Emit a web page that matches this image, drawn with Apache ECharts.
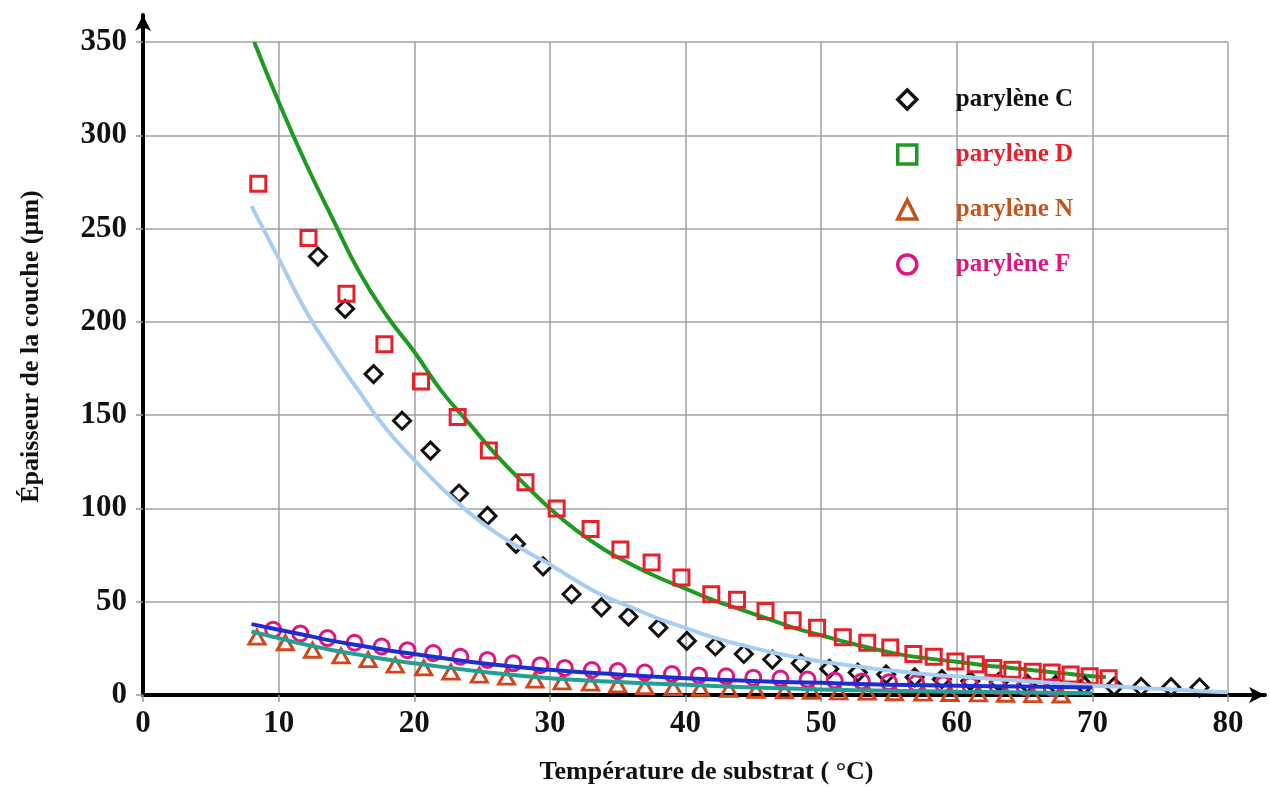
<!DOCTYPE html>
<html>
<head>
<meta charset="utf-8">
<script src="https://cdn.jsdelivr.net/npm/echarts@6/dist/echarts.min.js"></script>
<style>
    html, body { margin: 0; padding: 0; background: #fff; }
    #chart { width: 1270px; height: 787px; }
</style>
</head>
<body>
<div id="chart"></div>
<script>
// points mesurés
var cTemp = [12.9, 14.9, 17.0, 19.1, 21.2, 23.3, 25.4, 27.5, 29.5, 31.6, 33.8, 35.8, 38.0, 40.1, 42.2, 44.3, 46.4, 48.5, 50.6, 52.7, 54.8, 56.9, 58.9, 61.0, 63.1, 65.2, 67.3, 69.4, 71.6, 73.6, 75.8, 77.9];
var cThick = [235, 207, 172, 147, 131, 108, 96, 81, 69, 54, 47, 42, 36, 29, 26, 22, 19, 17, 14, 12, 11, 9.5, 8.5, 7.5, 7, 6, 5.5, 5, 4.5, 4.3, 4.2, 4];
var dTemp = [8.5, 12.2, 15.0, 17.8, 20.5, 23.2, 25.5, 28.2, 30.5, 33.0, 35.2, 37.5, 39.7, 41.9, 43.8, 45.9, 47.9, 49.7, 51.6, 53.4, 55.1, 56.8, 58.3, 59.9, 61.4, 62.7, 64.1, 65.6, 67.0, 68.4, 69.8, 71.2];
var dThick = [274, 245, 215, 188, 168, 149, 131, 114, 100, 89, 78, 71, 63, 54, 51, 45, 40, 36, 31, 28, 25.5, 22, 20.5, 18, 16.5, 14.5, 13.5, 12.5, 12, 11, 10, 9];
var nTemp = [8.4, 10.5, 12.5, 14.6, 16.6, 18.6, 20.7, 22.7, 24.8, 26.8, 28.9, 30.9, 33.0, 35.0, 37.0, 39.1, 41.1, 43.2, 45.2, 47.3, 49.3, 51.3, 53.4, 55.4, 57.5, 59.5, 61.6, 63.6, 65.6, 67.7, 69.7];
var nThick = [31, 28, 24, 21, 19, 16, 14.5, 12.3, 10.7, 9.6, 8, 7, 6.4, 5.4, 4.5, 4, 3.5, 3, 2.5, 2.2, 2, 1.7, 1.5, 1.2, 1, 0.8, 0.6, 0.4, 0.2, 0, -1];
var fTemp = [9.6, 11.6, 13.6, 15.6, 17.6, 19.5, 21.4, 23.4, 25.4, 27.3, 29.3, 31.1, 33.1, 35.0, 37.0, 39.0, 41.0, 43.0, 45.0, 47.0, 49.0, 51.0, 53.0, 55.0, 57.0, 59.0, 61.0, 63.0, 65.0, 67.0];
var fThick = [35, 33, 30.5, 28, 26, 24, 22.5, 20.5, 18.8, 17, 16, 14.5, 13.4, 12.8, 12, 11.2, 10.5, 10, 9.3, 8.8, 8.3, 7.8, 7.3, 6.8, 6.3, 5.8, 5.2, 4.8, 4.3, 3.8];

// courbes de tendance
var fitDTemp = [8.2, 10, 12, 14, 16, 18, 20, 22, 24, 26, 28, 30, 32, 34, 36, 38, 40, 42, 44, 46, 48, 50, 52, 54, 56, 58, 60, 62, 64, 66, 68, 70, 71];
var fitDThick = [350, 318, 285, 255, 226, 203, 184, 163, 146, 129, 114, 100, 88, 78, 70, 63, 57, 51, 46, 41, 36, 32, 28, 24.5, 21.5, 19.5, 17.8, 16, 14.5, 13, 11.5, 10, 9.6];
var fitCTemp = [8, 10, 12, 14, 16, 18, 20, 22, 24, 26, 28, 30, 32, 34, 36, 38, 40, 42, 44, 46, 48, 50, 52, 54, 56, 58, 60, 62, 64, 66, 68, 70, 72, 74, 76, 78, 80];
var fitCThick = [262, 234, 206, 183, 162, 142, 126, 111, 98, 87, 78, 70, 61, 53, 47, 41, 36, 31, 27, 23.5, 20.5, 18, 16, 14, 12.5, 11, 10, 9, 8, 7, 6, 5, 4.5, 3.5, 3, 2, 1.5];
var fitFTemp = [8, 10, 12, 14, 16, 18, 20, 25, 30, 35, 40, 45, 50, 55, 60, 65, 70];
var fitFThick = [38, 35, 32, 29, 26.5, 24, 22, 17, 13.5, 11, 9, 7.5, 6.5, 5.5, 5, 4.5, 4];
var fitNTemp = [8, 10, 12, 14, 16, 18, 20, 25, 30, 35, 40, 45, 50, 55, 60, 65, 70];
var fitNThick = [34, 30.5, 27, 24, 21.5, 19, 17, 12.5, 9, 7, 5.5, 4, 3, 2.3, 1.8, 1.4, 1];

function toPairs(xs, ys) {
    var out = [];
    for (var i = 0; i < xs.length; i++) {
        out.push([xs[i], ys[i]]);
    }
    return out;
}

var serifFont = "'Liberation Serif', 'Times New Roman', serif";

function markerSeries(name, symbol, color, xs, ys) {
    return {
        name: name,
        type: 'scatter',
        symbol: symbol,
        symbolSize: symbol == 'triangle' ? [16, 14] : (symbol == 'diamond' ? 17 : 15),
        z: 3,
        itemStyle: {
            color: 'rgba(255,255,255,0)',
            borderColor: color,
            borderWidth: 3,
            opacity: 1
        },
        data: toPairs(xs, ys)
    };
}

function fitSeries(name, color, xs, ys, z) {
    return {
        name: name,
        type: 'line',
        smooth: true,
        showSymbol: false,
        z: z,
        lineStyle: { color: color, width: 4 },
        data: toPairs(xs, ys)
    };
}

function legendItem(name, icon, iconColor, textColor) {
    return {
        name: name,
        icon: icon,
        itemStyle: { color: 'rgba(255,255,255,0)', borderColor: iconColor, borderWidth: 3.5, opacity: 1 },
        textStyle: { color: textColor }
    };
}

var myChart = echarts.init(document.getElementById('chart'));
var option = {
    backgroundColor: '#fff',
    animation: false,
    grid: [
        { left: 143, right: 42, top: 42, bottom: 92, outerBoundsMode: 'none' },
        { left: 143, right: 5, top: 15, bottom: 92, outerBoundsMode: 'none' }
    ],
    legend: {
        orient: 'vertical',
        left: 891,
        top: 82,
        itemGap: 30,
        itemWidth: 19,
        itemHeight: 19,
        textStyle: { fontFamily: serifFont, fontWeight: 'bold', fontSize: 25, padding: [0, 0, 0, 34] },
        data: [
            legendItem('parylène C', 'diamond', '#111', '#111'),
            legendItem('parylène D', 'rect', '#1e9a22', '#e8202a'),
            legendItem('parylène N', 'triangle', '#c8501a', '#c0561e'),
            legendItem('parylène F', 'circle', '#e0157f', '#e0157f')
        ]
    },
    xAxis: [{
        type: 'value',
        gridIndex: 0,
        min: 0,
        max: 80,
        interval: 10,
        name: 'Température de substrat ( °C)',
        nameLocation: 'middle',
        nameGap: 64,
        nameTextStyle: { fontFamily: serifFont, fontWeight: 'bold', fontSize: 26, color: '#111', padding: [0, 0, 0, 42] },
        axisLine: { show: false },
        axisTick: { show: true, length: 7, lineStyle: { color: '#999', width: 1.5 } },
        axisLabel: { margin: 13, fontFamily: serifFont, fontWeight: 'bold', fontSize: 31, color: '#111' },
        splitLine: { show: true, lineStyle: { color: '#a0a0a0', width: 1.5 } }
    }, {
        type: 'value',
        gridIndex: 1,
        min: 0,
        max: 82.7,
        axisLine: { show: true, symbol: ['none', 'arrow'], symbolSize: [12, 16], lineStyle: { color: '#000', width: 4 } },
        axisTick: { show: false },
        axisLabel: { show: false },
        splitLine: { show: false }
    }],
    yAxis: [{
        type: 'value',
        gridIndex: 0,
        min: 0,
        max: 350,
        interval: 50,
        name: 'Épaisseur de la couche (µm)',
        nameLocation: 'middle',
        nameGap: 99,
        nameTextStyle: { fontFamily: serifFont, fontWeight: 'bold', fontSize: 26, color: '#111', padding: [0, 0, 0, 44] },
        axisLine: { show: false },
        axisTick: { show: true, length: 7, lineStyle: { color: '#999', width: 1.5 } },
        axisLabel: { margin: 16, fontFamily: serifFont, fontWeight: 'bold', fontSize: 31, color: '#111' },
        splitLine: { show: true, lineStyle: { color: '#a0a0a0', width: 1.5 } }
    }, {
        type: 'value',
        gridIndex: 1,
        min: 0,
        max: 364.5,
        axisLine: { show: true, symbol: ['none', 'arrow'], symbolSize: [12, 16], lineStyle: { color: '#000', width: 4 } },
        axisTick: { show: false },
        axisLabel: { show: false },
        splitLine: { show: false }
    }],
    series: [
        fitSeries('fitD', '#1e9a22', fitDTemp, fitDThick, 2),
        fitSeries('fitC', '#a8cdf2', fitCTemp, fitCThick, 4),
        markerSeries('parylène C', 'diamond', '#111', cTemp, cThick),
        markerSeries('parylène D', 'rect', '#e8202a', dTemp, dThick),
        markerSeries('parylène N', 'triangle', '#d2461a', nTemp, nThick),
        markerSeries('parylène F', 'circle', '#e0157f', fTemp, fThick),
        fitSeries('fitN', '#22a096', fitNTemp, fitNThick, 4),
        fitSeries('fitF', '#1c2ed2', fitFTemp, fitFThick, 4)
    ]
};
myChart.setOption(option);
</script>
</body>
</html>
